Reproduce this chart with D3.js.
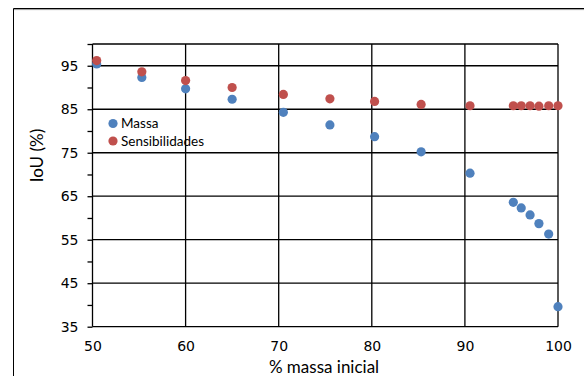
<!DOCTYPE html>
<html><head><meta charset="utf-8">
<script src="https://cdn.jsdelivr.net/npm/d3@7"></script>
<style>body{margin:0;background:#fff}svg{display:block}</style>
</head><body><svg id="c" width="584" height="376"></svg>
<script>
const xMassa = [50.45, 55.3, 60, 65, 70.5, 75.5, 80.3, 85.3, 90.55, 95.2, 96.05, 97.0, 97.95, 99.0, 100];
const massa = [95.4, 92.3, 89.7, 87.3, 84.3, 81.4, 78.7, 75.2, 70.3, 63.6, 62.3, 60.7, 58.7, 56.3, 39.6];
const xSens = [50.45, 55.3, 60, 65, 70.5, 75.5, 80.3, 85.3, 90.55, 95.2, 96.05, 97.0, 97.95, 99.0, 100];
const sens = [96.2, 93.6, 91.6, 90.0, 88.4, 87.4, 86.8, 86.1, 85.8, 85.8, 85.8, 85.8, 85.7, 85.8, 85.8];
const xTicks = [50, 60, 70, 80, 90, 100];
const yTicks = [35, 45, 55, 65, 75, 85, 95];
const yMinor = [40, 50, 60, 70, 80, 90, 100];
const seriesNames = ["Massa", "Sensibilidades"];
const colors = ["#4F81BD", "#C0504D"];

const svg = d3.select("#c");
const L = 92.5, R = 558, T = 44, B = 326.7;
const x = d3.scaleLinear().domain([50, 100]).range([L, R]);
const y = d3.scaleLinear().domain([35, 100]).range([B, T]);

// outer frame
svg.append("path").attr("d", `M13.5,${376}V8.5H584`).attr("fill", "none").attr("stroke", "#000").attr("stroke-width", 1);
svg.append("line").attr("x1", 14).attr("x2", 584).attr("y1", 9.6).attr("y2", 9.6).attr("stroke", "#999").attr("stroke-width", 1);

const g = svg.append("g");
g.selectAll(".hg").data(yTicks.concat([100])).join("line")
  .attr("x1", L).attr("x2", R).attr("y1", d => y(d)).attr("y2", d => y(d))
  .attr("stroke", "#000").attr("stroke-width", 1.3);
g.selectAll(".vg").data(xTicks).join("line")
  .attr("y1", T).attr("y2", B).attr("x1", d => x(d)).attr("x2", d => x(d))
  .attr("stroke", "#000").attr("stroke-width", 1.3);

const yAxis = d3.axisLeft(y).tickValues(yTicks.concat(yMinor)).tickSize(5)
  .tickFormat(d => yTicks.includes(d) ? d : "").tickPadding(9);
const ya = svg.append("g").attr("transform", `translate(${L},0)`).call(yAxis);
ya.select(".domain").remove();
ya.selectAll("line").attr("stroke", "#000").attr("stroke-width", 1.3);
ya.selectAll("text").attr("font-family", "DejaVu Sans").attr("font-size", 14).attr("fill", "#000");

const xAxis = d3.axisBottom(x).tickValues(xTicks).tickSize(0).tickPadding(14);
const xa = svg.append("g").attr("transform", `translate(0,${B})`).call(xAxis);
xa.select(".domain").remove();
xa.selectAll("text").attr("font-family", "DejaVu Sans").attr("font-size", 14).attr("fill", "#000");

const sets = [[xMassa, massa], [xSens, sens]];
sets.forEach((s, i) => {
  svg.append("g").selectAll("circle").data(s[1]).join("circle")
    .attr("cx", (d, j) => x(s[0][j])).attr("cy", d => y(d)).attr("r", 4.6)
    .attr("fill", colors[i]);
});

seriesNames.forEach((n, i) => {
  const ly = 123.5 + i * 17.5;
  svg.append("circle").attr("cx", 113).attr("cy", ly).attr("r", 4.6).attr("fill", colors[i]);
  svg.append("text").attr("x", 121).attr("y", ly).attr("dy", "0.35em")
    .attr("font-family", "Lato").attr("font-size", 13.5).attr("fill", "#000").text(n);
});

svg.append("text").attr("x", 324).attr("y", 367).attr("dy", "0.35em").attr("text-anchor", "middle")
  .attr("font-family", "Lato").attr("font-size", 17).attr("fill", "#000").text("% massa inicial");
svg.append("text").attr("transform", "translate(37,155.5) rotate(-90)").attr("dy", "0.35em").attr("text-anchor", "middle")
  .attr("font-family", "Lato").attr("font-size", 17).attr("fill", "#000").text("IoU (%)");
</script></body></html>
